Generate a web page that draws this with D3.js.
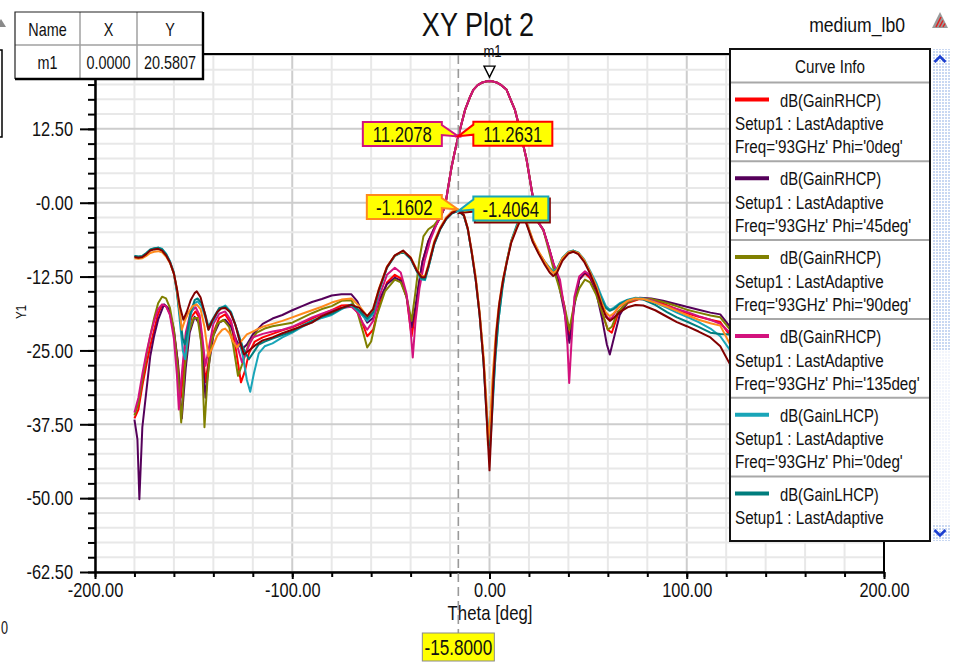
<!DOCTYPE html>
<html>
<head>
<meta charset="utf-8">
<script src="https://cdn.jsdelivr.net/npm/d3@7"></script>
<style>
  html, body { margin: 0; padding: 0; background: #fff; overflow: hidden; }
  svg { display: block; }
  text { font-family: "Liberation Sans", Arial, Helvetica, sans-serif; fill: #111; }
</style>
</head>
<body>
<svg id="chart" width="956" height="662"></svg>
<script>
// ---------- data: gain (dB) versus Theta (deg) ----------
const rhcpPhi0 = [[-180,-36.5],[-178,-35],[-176,-31],[-174,-27.5],[-172,-24.3],[-170,-21.5],[-168,-18.8],[-166,-17.3],[-164,-17.5],[-162,-18.8],[-160,-22],[-158,-27],[-156.5,-33],[-155,-28],[-153,-22],[-151,-19.3],[-149,-18.4],[-147,-19.5],[-145.5,-24],[-144,-30.4],[-142.5,-27],[-140,-22],[-137,-19.5],[-134,-18.9],[-131,-20.5],[-128.5,-25],[-126,-30.4],[-124,-28.5],[-122,-25.5],[-119,-23.5],[-115,-22.8],[-110,-22.2],[-105,-21.6],[-100,-21.1],[-95,-20.4],[-90,-19.6],[-85,-18.9],[-80,-18.2],[-75,-17.4],[-70,-17.3],[-66,-19],[-62,-22.6],[-59,-21.5],[-56,-17.5],[-52,-13.5],[-48,-12.2],[-45,-12.8],[-42,-16],[-39.5,-22.6],[-37.5,-18.5],[-36,-14.5],[-34,-10],[-31,-6.5],[-28,-4.3],[-25,-2.5],[-22.5,-0.6],[-21,2.5],[-19.2,6.1],[-17.5,8.8],[-15.8,11.2631],[-14,13.6],[-12.4,15.7],[-10,17.8],[-8.2,19.1],[-6,19.9],[-4,20.3],[-2,20.5],[0,20.5807],[2,20.5],[4,20.3],[6,19.9],[8.7,19.1],[10.5,17.6],[12.9,15.7],[14.5,13.6],[16.1,11.2],[17.5,9.2],[18.8,7.3],[20.5,3.9],[22.2,0.5],[23.9,-2.9],[27.3,-4.6],[30,-7.5],[32.3,-10.2],[35,-13],[38,-17.5],[40.4,-23.1],[43,-17],[45.5,-13],[48.4,-12],[51,-12.8],[54,-15],[57,-18.5],[60,-21.5],[62,-22],[65,-19],[70,-17],[76,-16.3],[82,-16.4],[88,-17.1],[94,-17.9],[100,-18.7],[106,-19.3],[112,-19.8],[117,-20.2],[122,-22.5],[126,-23.5]];

const rhcpPhi45 = [[-180,-36.7],[-178.5,-40],[-177.5,-50.2],[-176,-38],[-174,-32],[-172,-26],[-170,-22.5],[-168,-19.8],[-165,-17.2],[-162.5,-18],[-160,-21.5],[-158,-27],[-156,-36.5],[-154,-28],[-152,-22],[-149.5,-19.3],[-147,-20.5],[-145.5,-26],[-144,-33],[-142.5,-28],[-140,-22.5],[-137,-20.3],[-134,-19.8],[-131,-21],[-128,-23.5],[-125.5,-24.8],[-123,-24],[-120,-22.3],[-115,-20.5],[-110,-19.6],[-105,-19],[-100,-18.2],[-95,-17.5],[-90,-16.8],[-85,-16.3],[-80,-15.7],[-75,-15.5],[-70,-15.5],[-67,-16.7],[-64,-19],[-62,-20.3],[-59,-19.5],[-56,-16.5],[-52,-13.8],[-48,-12.7],[-45,-13.2],[-42,-16],[-39.5,-21.1],[-37.5,-17.5],[-36,-14],[-34,-10],[-31,-6.5],[-28,-4.3],[-25,-2.5],[-22.5,-0.6],[-21,2.5],[-19.2,6.1],[-17.5,8.8],[-15.8,11.24],[-14,13.6],[-12.4,15.7],[-10,17.8],[-8.2,19.1],[-6,19.9],[-4,20.3],[-2,20.5],[0,20.5807],[2,20.5],[4,20.3],[6,19.9],[8.7,19.1],[10.5,17.6],[12.9,15.7],[14.5,13.6],[16.1,11.2],[17.5,9.2],[18.8,7.3],[20.5,3.9],[22.2,0.5],[23.9,-2.9],[27.3,-4.6],[30,-7.5],[32.3,-10.2],[35,-13.5],[38,-18.5],[40.5,-23.7],[43,-17.5],[45.5,-13],[48.4,-11.8],[51,-12.5],[54,-15],[57,-19.5],[59.5,-24],[61,-25.7],[63,-23],[66,-19],[70,-16.8],[76,-16.1],[82,-16.2],[88,-16.6],[94,-17.1],[100,-17.6],[106,-18.1],[112,-18.6],[117,-18.9],[122,-21],[126,-22.5]];

const rhcpPhi90 = [[-180,-36],[-178,-34],[-176,-30],[-174,-26],[-172,-22.5],[-170,-19.5],[-168,-17],[-166,-15.9],[-164,-16.2],[-162,-17.8],[-160,-21.5],[-158,-28],[-156.3,-37.2],[-154.5,-28],[-152.5,-22],[-150,-19.5],[-148,-19.5],[-146,-24],[-144.5,-38],[-143,-30],[-141,-23.5],[-138,-20.5],[-135,-19.8],[-132,-21],[-130,-24],[-127.5,-29.3],[-125,-27],[-122,-23.8],[-118,-22],[-114,-21.3],[-110,-20.9],[-105,-20.6],[-100,-20.3],[-95,-19.5],[-90,-18.7],[-85,-18],[-80,-17.5],[-75,-16.6],[-70,-16.5],[-67,-18.5],[-64,-22],[-62,-24.5],[-60,-23.5],[-57,-19],[-53,-15],[-48,-13],[-45,-13.5],[-42,-16],[-39.5,-20],[-37.5,-15],[-35.5,-9.5],[-33.5,-5.7],[-31,-4.5],[-28,-3.8],[-25,-2.4],[-22.5,-0.6],[-21,2.5],[-19.2,6.1],[-17.5,8.8],[-15.8,11.24],[-14,13.6],[-12.4,15.7],[-10,17.8],[-8.2,19.1],[-6,19.9],[-4,20.3],[-2,20.5],[0,20.5807],[2,20.5],[4,20.3],[6,19.9],[8.7,19.1],[10.5,17.6],[12.9,15.7],[14.5,13.6],[16.1,11.2],[17.5,9.2],[18.8,7.3],[20.5,3.9],[22.2,0.5],[23.9,-2.9],[27.3,-4.6],[30,-8],[32.3,-11],[35,-14],[38,-17.5],[40.5,-21.5],[43,-17],[45.5,-14.5],[48.4,-13],[51,-13.5],[54,-15.5],[57,-18.5],[60,-21.5],[62,-21],[65,-18.5],[70,-16.8],[76,-16.2],[82,-16.3],[88,-16.8],[94,-17.4],[100,-18.1],[106,-18.6],[112,-19.1],[117,-19.4],[122,-21.5],[126,-22.5]];

const rhcpPhi135 = [[-180,-35.5],[-178,-33],[-176,-29],[-174,-25.5],[-172,-22.5],[-170,-20],[-168,-18],[-166,-17.2],[-164,-17.5],[-162,-19],[-160,-23],[-158.5,-29],[-157.5,-35],[-156,-29],[-154,-22],[-151.5,-18.5],[-149,-17.7],[-147,-19],[-145.5,-23],[-144,-27.6],[-142.5,-25],[-140,-20.5],[-137,-18.8],[-134,-18.4],[-131,-20],[-128.5,-23.5],[-125.5,-27],[-123,-25],[-120,-22.8],[-115,-22.2],[-110,-21.8],[-105,-21.5],[-100,-21],[-95,-20.2],[-90,-19.4],[-85,-18.8],[-80,-18.2],[-75,-17.8],[-70,-17.6],[-67,-18.5],[-64,-20.5],[-62,-21.5],[-59,-20],[-56,-16],[-52,-12.2],[-48,-11],[-45,-11.8],[-42,-15.5],[-40,-21.5],[-38.9,-26.2],[-37.5,-20],[-35.5,-14.5],[-33,-10],[-30,-6.3],[-27,-3.8],[-25,-2.3],[-22.5,-0.6],[-21,2.5],[-19.2,6.1],[-17.5,8.8],[-15.8,11.2078],[-14,13.6],[-12.4,15.7],[-10,17.8],[-8.2,19.1],[-6,19.9],[-4,20.3],[-2,20.5],[0,20.5807],[2,20.5],[4,20.3],[6,19.9],[8.7,19.1],[10.5,17.6],[12.9,15.7],[14.5,13.6],[16.1,11.2],[17.5,9.2],[18.8,7.3],[20.5,3.9],[22.2,0.5],[23.9,-2.9],[27.3,-4.6],[30,-7.5],[32.3,-10.2],[35.7,-13],[38,-18],[39.5,-24],[40.4,-30.5],[41.5,-24],[43,-16],[45.5,-12.5],[48.4,-11.6],[51,-12.3],[54,-14.5],[57,-17.5],[60,-19.6],[62,-19.5],[65,-17.8],[70,-16.6],[76,-16.2],[82,-16.5],[88,-17.3],[94,-17.9],[100,-18.5],[106,-19.2],[112,-19.8],[117,-20.5],[122,-22],[126,-23]];

const lhcpPhi0 = [[-180,-9.0],[-178,-9.2],[-176,-9.1],[-174,-8.6],[-172,-8.0],[-170,-7.8],[-168,-7.6],[-166,-7.8],[-164,-8.6],[-162,-9.9],[-160,-11.8],[-158.5,-15],[-157,-20],[-155.5,-25],[-154.3,-26.5],[-153,-23],[-151.5,-19],[-149.5,-17],[-148,-16.7],[-146,-17.5],[-144,-19.5],[-142.5,-21.5],[-140,-20],[-137,-18],[-134,-17.4],[-131,-18.5],[-128,-21.5],[-125,-26],[-123,-30],[-121.3,-32],[-119.5,-29],[-117,-25.5],[-114,-24.3],[-110,-23.8],[-105,-22.8],[-100,-22],[-95,-21],[-90,-20.2],[-85,-19.5],[-80,-19],[-75,-18],[-70,-17.3],[-66,-18.5],[-62,-20],[-59,-18.8],[-56,-15],[-52,-11],[-48,-9],[-43.8,-8.2],[-40,-9.5],[-37,-11.5],[-34.5,-13],[-32.7,-13.1],[-31,-11],[-28,-7],[-25,-4.5],[-22,-2.8],[-19,-1.8],[-15.8,-1.4064],[-13,-2.2],[-11,-4.5],[-9,-8.5],[-7,-13],[-5,-19],[-3,-27],[-1.5,-36],[0,-43],[1.5,-35],[3,-26],[4.5,-20],[6.5,-14.5],[8.7,-10],[11,-6.5],[13.8,-3.8],[16,-2.2],[17.5,-2.1],[19.5,-4],[22,-6.5],[25,-8.5],[28,-10],[30.5,-11],[32.3,-11.6],[34,-11.2],[37,-9.3],[40,-8.3],[42.5,-8.1],[45,-8.4],[48,-9.6],[51,-11.5],[54,-13.5],[57,-16],[59,-17.5],[61,-18.1],[63,-17.8],[66,-17],[70,-16.4],[74,-16.1],[78,-16.2],[84,-16.9],[90,-17.8],[95,-18.6],[100,-19.3],[106,-20.2],[112,-21.3],[117,-22.6],[122,-25],[126,-26.5]];

const lhcpPhi45 = [[-180,-9.0],[-178,-9.1],[-176,-9],[-174,-8.5],[-172,-7.9],[-170,-7.7],[-168,-7.6],[-166,-7.9],[-164,-8.7],[-162,-10],[-160,-12],[-158.5,-15],[-157,-19],[-155.5,-23],[-154.5,-24],[-153,-21.5],[-151.5,-18.5],[-149.5,-16.5],[-148,-16.2],[-146,-17],[-144,-19],[-142.5,-21],[-140,-19.5],[-137,-17.8],[-134,-17.6],[-131,-18.7],[-128,-21.5],[-125,-24.5],[-122,-26.5],[-120,-25.5],[-117,-24],[-114,-23.5],[-110,-23],[-105,-22.4],[-100,-21.8],[-95,-20.8],[-90,-20],[-85,-19.3],[-80,-18.8],[-75,-17.9],[-70,-17.2],[-66,-18.3],[-62,-19.6],[-59,-18.5],[-56,-14.8],[-52,-11],[-48,-9],[-43.8,-8.3],[-40,-9.5],[-37,-11.5],[-34.5,-12.8],[-32.7,-12.9],[-31,-11],[-28,-7],[-25,-4.5],[-22,-2.8],[-19,-1.8],[-15.8,-1.35],[-13,-2.2],[-11,-4.5],[-9,-8.5],[-7,-13],[-5,-19],[-3,-27],[-1.5,-35],[0,-41],[1.5,-34],[3,-26],[4.5,-20],[6.5,-14.5],[8.7,-10],[11,-6.5],[13.8,-4],[16,-2.2],[17.5,-2],[19.5,-4.2],[22,-6.5],[25,-8.5],[28,-10],[30.5,-11.2],[32.3,-11.8],[34,-11.4],[37,-9.4],[40,-8.4],[42.5,-8.1],[45,-8.5],[48,-9.8],[51,-11.8],[54,-14],[57,-16.5],[59,-17.8],[61,-18.3],[63,-18],[66,-17.2],[70,-16.5],[74,-16.2],[78,-16.4],[84,-17.3],[90,-18.5],[95,-19.4],[100,-20.1],[106,-21],[112,-22],[117,-22.2],[122,-22.3],[126,-22.5]];

const lhcpPhi90 = [[-180,-9.4],[-178,-9.5],[-176,-9.4],[-174,-9],[-172,-8.5],[-170,-8.3],[-168,-8.2],[-166,-8.4],[-164,-9.1],[-162,-10.2],[-160,-12],[-158.5,-14.5],[-157,-18.5],[-156,-21.5],[-154.5,-20],[-152.5,-18.5],[-150.5,-17.5],[-148.5,-17.2],[-146.5,-18],[-144.5,-21],[-142.5,-26],[-140.5,-24.5],[-138,-22.5],[-135.5,-21.5],[-134,-21.3],[-132,-22],[-130,-23.5],[-128,-24.5],[-126,-23.5],[-123,-22.3],[-120,-21.8],[-115,-21],[-110,-20.5],[-105,-20],[-100,-19.4],[-95,-18.8],[-90,-18.2],[-85,-17.6],[-80,-16.9],[-75,-16.4],[-70,-16.2],[-66,-17.5],[-62,-19.2],[-59,-18],[-56,-14.5],[-52,-10.8],[-48,-8.9],[-43.8,-8.2],[-40,-9.2],[-37,-11.2],[-34.5,-12.4],[-32.7,-12.4],[-31,-10.5],[-28,-6.5],[-25,-4.2],[-22,-2.5],[-19,-1.5],[-15.8,-1.1602],[-13,-2],[-11,-4.3],[-9,-8.2],[-7,-12.5],[-5,-18.5],[-3,-26],[-1.5,-34],[-0.8,-41],[0.5,-36],[1.5,-30],[3,-23],[4.5,-18],[6.5,-13.5],[8.7,-10],[11,-6.6],[13.8,-4.2],[16,-2.5],[17.5,-2.3],[19.5,-4],[22,-6.3],[25,-8.3],[28,-10],[30.5,-11.2],[32.3,-11.9],[34,-11.5],[37,-9.4],[40,-8.4],[42.5,-8.2],[45,-8.5],[48,-9.7],[51,-11.7],[54,-14],[57,-17],[59,-18.6],[61,-19.2],[63,-18.7],[66,-17.5],[70,-16.6],[74,-16.2],[78,-16.3],[84,-16.9],[90,-17.6],[95,-18.3],[100,-19],[106,-19.8],[112,-20.4],[117,-20.8],[122,-24],[126,-25]];

const lhcpPhi135 = [[-180,-9.2],[-178,-9.3],[-176,-9.2],[-174,-8.7],[-172,-8.1],[-170,-7.9],[-168,-7.8],[-166,-8.1],[-164,-8.9],[-162,-10.1],[-160,-12],[-158.5,-14.5],[-157,-17.5],[-155.2,-19.8],[-153.5,-18.5],[-151.5,-16.5],[-149.5,-15.3],[-148.4,-15],[-146.5,-16],[-144.5,-18.5],[-142.5,-21.5],[-140.5,-20],[-138,-18.5],[-136,-17.9],[-134,-17.8],[-131.5,-18.5],[-129,-20.5],[-127,-23],[-124.5,-25.7],[-122,-25],[-119,-24.2],[-115,-23.3],[-110,-22.8],[-105,-22.1],[-100,-21.5],[-95,-20.9],[-90,-20.3],[-85,-19.2],[-80,-18.5],[-75,-17.8],[-70,-17.3],[-66,-17.8],[-62,-19.2],[-59,-18],[-56,-14.6],[-52,-10.9],[-48,-8.9],[-43.8,-8.1],[-40,-9.3],[-37,-11.4],[-34.5,-12.6],[-32.7,-12.6],[-31,-10.7],[-28,-6.8],[-25,-4.4],[-22,-2.7],[-19,-1.7],[-15.8,-1.3],[-13,-2.1],[-11,-4.4],[-9,-8.4],[-7,-13],[-5,-19],[-3,-27],[-1.5,-36],[0,-45.3],[1,-38],[2,-30],[3.5,-22],[5,-17],[7,-12.8],[8.7,-10.2],[11,-6.8],[13.8,-4.4],[16,-2.7],[17.5,-2.5],[19.5,-4.3],[22,-6.7],[25,-8.7],[28,-10.5],[30.5,-11.8],[32.3,-12.4],[34,-12],[37,-9.8],[40,-8.6],[42.5,-8.3],[45,-8.7],[48,-10],[51,-12],[54,-14.5],[57,-17.5],[59,-19.3],[61,-20],[63,-19.5],[66,-18.5],[70,-17.7],[74,-17.3],[78,-17.4],[84,-18.2],[90,-19.3],[95,-20.2],[100,-20.9],[106,-21.8],[112,-22.8],[117,-24.3],[122,-27.4],[126,-28.5]];

// ---------- labels, ticks, legend text ----------
const chartTitle = "XY Plot 2";
const designName = "medium_lb0";
const xAxisTitle = "Theta [deg]";
const yAxisTitle = "Y1";
const xTicks = [-200, -100, 0, 100, 200];
const xTickLabels = ["-200.00", "-100.00", "0.00", "100.00", "200.00"];
const yTicks = [-62.5, -50, -37.5, -25, -12.5, 0, 12.5];
const yTickLabels = ["-62.50", "-50.00", "-37.50", "-25.00", "-12.50", "-0.00", "12.50"];

const seriesNames = ["dB(GainRHCP)", "dB(GainRHCP)", "dB(GainRHCP)", "dB(GainRHCP)",
                     "dB(GainLHCP)", "dB(GainLHCP)", "dB(GainLHCP)", "dB(GainLHCP)"];
const seriesSetup = "Setup1 : LastAdaptive";
const seriesFreq = ["Freq='93GHz' Phi='0deg'", "Freq='93GHz' Phi='45deg'", "Freq='93GHz' Phi='90deg'",
                    "Freq='93GHz' Phi='135deg'", "Freq='93GHz' Phi='0deg'", "Freq='93GHz' Phi='45deg'",
                    "Freq='93GHz' Phi='90deg'", "Freq='93GHz' Phi='135deg'"];
const seriesColors = ["#ff0000", "#55005a", "#808000", "#d3127d", "#19a5b8", "#007d7d", "#ff8a1c", "#820000"];
const seriesData = [rhcpPhi0, rhcpPhi45, rhcpPhi90, rhcpPhi135, lhcpPhi0, lhcpPhi45, lhcpPhi90, lhcpPhi135];

// marker m1 and the theta cursor
const markerName = "m1";
const markerTheta = 0;
const cursorTheta = -15.8;
// which curves carry a value flag at the cursor, and on which side the flag sits
const cursorFlagSeries = [3, 0, 6, 4];
const cursorFlagSide = ["left", "right", "left", "right"];

// ---------- layout ----------
const svg = d3.select("#chart");
const plot = { left: 95, right: 884, top: 55, bottom: 572 };
const x = d3.scaleLinear().domain([-200, 200]).range([plot.left, plot.right]);
const y = d3.scaleLinear().domain([-62.5, 25]).range([plot.bottom, plot.top]);

function label(parent, px, py, str, size, anchor, sx) {
  return parent.append("text")
    .attr("transform", `translate(${px},${py}) scale(${sx || 0.82},1)`)
    .attr("text-anchor", anchor || "middle")
    .attr("dominant-baseline", "central")
    .style("font-size", size + "px")
    .text(str);
}
function valueAt(data, t) {
  const p = data.find(d => d[0] === t);
  return p ? p[1] : null;
}

// ---------- grid ----------
const grid = svg.append("g");
const xGrid = d3.range(-200, 201, 20);
const yGrid = d3.range(-62.5, 25.01, 2.5);
grid.selectAll(".vg").data(xGrid).join("line")
  .attr("x1", d => x(d)).attr("x2", d => x(d))
  .attr("y1", plot.top).attr("y2", plot.bottom)
  .attr("stroke", d => (d % 100 === 0 ? "#cdcdcd" : "#e8e8e8"))
  .attr("stroke-width", 2);
grid.selectAll(".hg").data(yGrid).join("line")
  .attr("x1", plot.left).attr("x2", plot.right)
  .attr("y1", d => y(d)).attr("y2", d => y(d))
  .attr("stroke", d => (Math.abs(d % 12.5) < 1e-6 ? "#cdcdcd" : "#e8e8e8"))
  .attr("stroke-width", 2);

// ---------- curves ----------
svg.append("clipPath").attr("id", "plotClip").append("rect")
  .attr("x", plot.left).attr("y", plot.top)
  .attr("width", plot.right - plot.left).attr("height", plot.bottom - plot.top);
const line = d3.line().x(d => x(d[0])).y(d => y(d[1]));
const curves = svg.append("g").attr("clip-path", "url(#plotClip)");
seriesData.forEach((data, i) => {
  curves.append("path").datum(data)
    .attr("d", line)
    .attr("fill", "none")
    .attr("stroke", seriesColors[i])
    .attr("stroke-width", 2)
    .attr("stroke-linejoin", "round");
});

// ---------- frame and axes ----------
svg.append("line").attr("x1", plot.left).attr("x2", plot.right)
  .attr("y1", plot.top - 1).attr("y2", plot.top - 1).attr("stroke", "#000").attr("stroke-width", 2);
svg.append("line").attr("x1", plot.right).attr("x2", plot.right)
  .attr("y1", plot.top - 1).attr("y2", plot.bottom).attr("stroke", "#000").attr("stroke-width", 2);

const yMinor = svg.append("g").attr("transform", `translate(${plot.left},0)`)
  .call(d3.axisLeft(y).tickValues(yGrid).tickSize(7).tickSizeOuter(0).tickFormat(""));
const yAxis = svg.append("g").attr("transform", `translate(${plot.left},0)`)
  .call(d3.axisLeft(y).tickValues(yTicks).tickSize(15).tickSizeOuter(0)
    .tickFormat((d, i) => yTickLabels[i]));
const xMinor = svg.append("g").attr("transform", `translate(0,${plot.bottom})`)
  .call(d3.axisBottom(x).tickValues(xGrid).tickSize(5).tickSizeOuter(0).tickFormat(""));
const xAxis = svg.append("g").attr("transform", `translate(0,${plot.bottom})`)
  .call(d3.axisBottom(x).tickValues(xTicks).tickSize(7).tickSizeOuter(0)
    .tickFormat((d, i) => xTickLabels[i]));

[yMinor, yAxis, xMinor, xAxis].forEach(g => {
  g.selectAll("path.domain").attr("stroke", "#000").attr("stroke-width", 2);
  g.selectAll(".tick line").attr("stroke", "#000").attr("stroke-width", 2);
});
yAxis.selectAll(".tick text")
  .attr("font-family", null).style("font-size", "20px").attr("fill", "#111")
  .attr("transform", "scale(0.82,1)").attr("x", -22 / 0.82).attr("dy", "0.34em");
xAxis.selectAll(".tick text")
  .attr("font-family", null).style("font-size", "20px").attr("fill", "#111")
  .attr("transform", "scale(0.82,1)").attr("y", 11).attr("dy", "0.72em");

label(svg, (plot.left + plot.right) / 2 + 0.5, 613, xAxisTitle, 20, "middle", 0.84);
svg.append("text")
  .attr("transform", "translate(21,312) rotate(-90) scale(0.82,1)")
  .attr("text-anchor", "middle").attr("dominant-baseline", "central")
  .style("font-size", "14px").text(yAxisTitle);

// ---------- title and header items ----------
label(svg, 478, 25, chartTitle, 33, "middle", 0.82);
label(svg, 905, 25, designName, 20, "end", 0.88);
const icon = svg.append("g");
icon.append("path").attr("d", "M932,28 L940,12 L948,28 Z").attr("fill", "#9a9a9a");
[[936, 27, 941, 17], [939.5, 27, 943, 20.5], [943, 27, 945, 23.5]].forEach(s =>
  icon.append("line").attr("x1", s[0]).attr("y1", s[1]).attr("x2", s[2]).attr("y2", s[3])
    .attr("stroke", "#e02020").attr("stroke-width", 1.5));

// neighbouring elements at the left edge
svg.append("path").attr("d", "M-4,27 L1,19 L6,27 Z").attr("fill", "#8a8a8a");
svg.append("rect").attr("x", -20).attr("y", 50).attr("width", 22).attr("height", 87)
  .attr("fill", "none").attr("stroke", "#000").attr("stroke-width", 1.5);
label(svg, 1, 628, "0", 18, "start", 0.7);

// ---------- theta cursor ----------
const cx = x(cursorTheta);
svg.append("line").attr("x1", cx).attr("x2", cx).attr("y1", plot.top).attr("y2", 633)
  .attr("stroke", "#9a9a9a").attr("stroke-width", 1.6).attr("stroke-dasharray", "9,5");
svg.append("rect").attr("x", cx - 36).attr("y", 633).attr("width", 72).attr("height", 28)
  .attr("fill", "#ffff00").attr("stroke", "#8a8a8a").attr("stroke-width", 1);
label(svg, cx, 647.5, cursorTheta.toFixed(4), 22, "middle", 0.78);

// value flags where the cursor crosses the curves
const flags = svg.append("g");
cursorFlagSeries.forEach((si, k) => {
  const v = valueAt(seriesData[si], cursorTheta);
  const tx = cx, ty = y(v);
  const w = k < 2 ? 79 : 75, h = 24;
  const y0 = ty - 14.5, y1 = y0 + h;
  let dPath, tcx;
  if (cursorFlagSide[k] === "left") {
    const x1 = tx - 16.5, x0 = x1 - w;
    dPath = `M${x0},${y0} H${x1} V${y0 + 3} L${tx},${ty} L${x1},${y0 + 13} V${y1} H${x0} Z`;
    tcx = (x0 + x1) / 2;
  } else {
    const x0 = tx + 15, x1 = x0 + w;
    dPath = `M${x0},${y0} H${x1} V${y1} H${x0} V${y0 + 13} L${tx},${ty} L${x0},${y0 + 3} Z`;
    tcx = (x0 + x1) / 2;
    if (si === 4) {
      // the neighbouring LHCP flag sits just behind this one
      flags.append("path").attr("d", dPath).attr("transform", "translate(1.5,2)")
        .attr("fill", "#ffff00").attr("stroke", seriesColors[7]).attr("stroke-width", 2);
    }
  }
  flags.append("path").attr("d", dPath).attr("fill", "#ffff00")
    .attr("stroke", seriesColors[si]).attr("stroke-width", 2).attr("stroke-linejoin", "miter");
  label(flags, tcx, y0 + 12.5, v.toFixed(4), 22, "middle", 0.76);
});

// marker m1 on the main beam
const mVal = valueAt(seriesData[3], markerTheta);
const mx = x(markerTheta), my = y(mVal);
svg.append("path").attr("d", `M${mx - 5.5},${my - 15} H${mx + 5.5} L${mx},${my - 4} Z`)
  .attr("fill", "#fff").attr("stroke", "#000").attr("stroke-width", 1.4);
label(svg, mx + 3, 52, markerName, 16, "middle", 0.82);

// ---------- marker table ----------
const table = svg.append("g");
const tb = { x0: 15, x1: 203, y0: 12, y1: 79, c1: 80, c2: 137, r1: 45 };
table.append("rect").attr("x", tb.x0).attr("y", tb.y0)
  .attr("width", tb.x1 - tb.x0).attr("height", tb.y1 - tb.y0).attr("fill", "#fff");
[[tb.c1, tb.y0, tb.c1, tb.y1], [tb.c2, tb.y0, tb.c2, tb.y1], [tb.x0, tb.r1, tb.x1, tb.r1]].forEach(s =>
  table.append("line").attr("x1", s[0]).attr("y1", s[1]).attr("x2", s[2]).attr("y2", s[3])
    .attr("stroke", "#a0a0a0").attr("stroke-width", 1.5));
table.append("path").attr("d", `M${tb.x0},${tb.y1} V${tb.y0} H${tb.x1}`)
  .attr("fill", "none").attr("stroke", "#222").attr("stroke-width", 1.2);
table.append("path").attr("d", `M${tb.x1},${tb.y0} V${tb.y1} H${tb.x0}`)
  .attr("fill", "none").attr("stroke", "#000").attr("stroke-width", 2.4);
const colCx = [(tb.x0 + tb.c1) / 2, (tb.c1 + tb.c2) / 2, (tb.c2 + tb.x1) / 2];
["Name", "X", "Y"].forEach((t, i) => label(table, colCx[i], 29, t, 18, "middle", 0.8));
[markerName, markerTheta.toFixed(4), mVal.toFixed(4)].forEach((t, i) =>
  label(table, colCx[i], 62, t, 18, "middle", 0.8));

// ---------- curve info legend ----------
const lg = { x0: 730, x1: 930, y0: 49, y1: 541, head: 82.5, row: 78.8 };
const legend = svg.append("g");
svg.append("clipPath").attr("id", "legendClip").append("rect")
  .attr("x", lg.x0).attr("y", lg.y0).attr("width", lg.x1 - lg.x0).attr("height", lg.y1 - lg.y0);
legend.append("rect").attr("x", lg.x0).attr("y", lg.y0)
  .attr("width", lg.x1 - lg.x0).attr("height", lg.y1 - lg.y0).attr("fill", "#fff");
const lgBody = legend.append("g").attr("clip-path", "url(#legendClip)");
label(lgBody, (lg.x0 + lg.x1) / 2, 66, "Curve Info", 19, "middle", 0.8);
lgBody.append("line").attr("x1", lg.x0).attr("x2", lg.x1).attr("y1", lg.head).attr("y2", lg.head)
  .attr("stroke", "#a8a8a8").attr("stroke-width", 2);
seriesNames.forEach((name, i) => {
  const top = lg.head + i * lg.row;
  if (top > lg.y1) return;
  const rowLines = [[780, top + 18, name, 0.78], [735, top + 41, seriesSetup, 0.8], [735, top + 64, seriesFreq[i], 0.8]];
  lgBody.append("line").attr("x1", 735).attr("x2", 769).attr("y1", top + 17).attr("y2", top + 17)
    .attr("stroke", seriesColors[i]).attr("stroke-width", 4);
  // only lines that fit fully inside the scrolled view are shown
  rowLines.filter(r => r[1] + 9 < lg.y1).forEach(r => label(lgBody, r[0], r[1], r[2], 19, "start", r[3]));
  lgBody.append("line").attr("x1", lg.x0).attr("x2", lg.x1)
    .attr("y1", top + lg.row).attr("y2", top + lg.row)
    .attr("stroke", "#a8a8a8").attr("stroke-width", 2);
});
legend.append("rect").attr("x", lg.x0).attr("y", lg.y0)
  .attr("width", lg.x1 - lg.x0).attr("height", lg.y1 - lg.y0)
  .attr("fill", "none").attr("stroke", "#111").attr("stroke-width", 2);

// scroll strip beside the legend
const defs = svg.append("defs");
const pat = defs.append("pattern").attr("id", "dots").attr("patternUnits", "userSpaceOnUse")
  .attr("width", 3).attr("height", 3);
pat.append("rect").attr("width", 2).attr("height", 2).attr("fill", "#c9d8f2");
svg.append("rect").attr("x", 932).attr("y", lg.y0).attr("width", 18).attr("height", 301)
  .attr("fill", "url(#dots)");
svg.append("rect").attr("x", 932).attr("y", 350).attr("width", 18).attr("height", 191)
  .attr("fill", "url(#dots)").attr("opacity", 0.25);
svg.append("rect").attr("x", 932).attr("y", 524).attr("width", 18).attr("height", 17)
  .attr("fill", "url(#dots)");
svg.append("path").attr("d", "M934.5,62 L940,56.5 L945.5,62").attr("fill", "none")
  .attr("stroke", "#1c3fd0").attr("stroke-width", 2.6);
svg.append("path").attr("d", "M934.5,530 L940,535.5 L945.5,530").attr("fill", "none")
  .attr("stroke", "#1c3fd0").attr("stroke-width", 2.6);
</script>
</body>
</html>
